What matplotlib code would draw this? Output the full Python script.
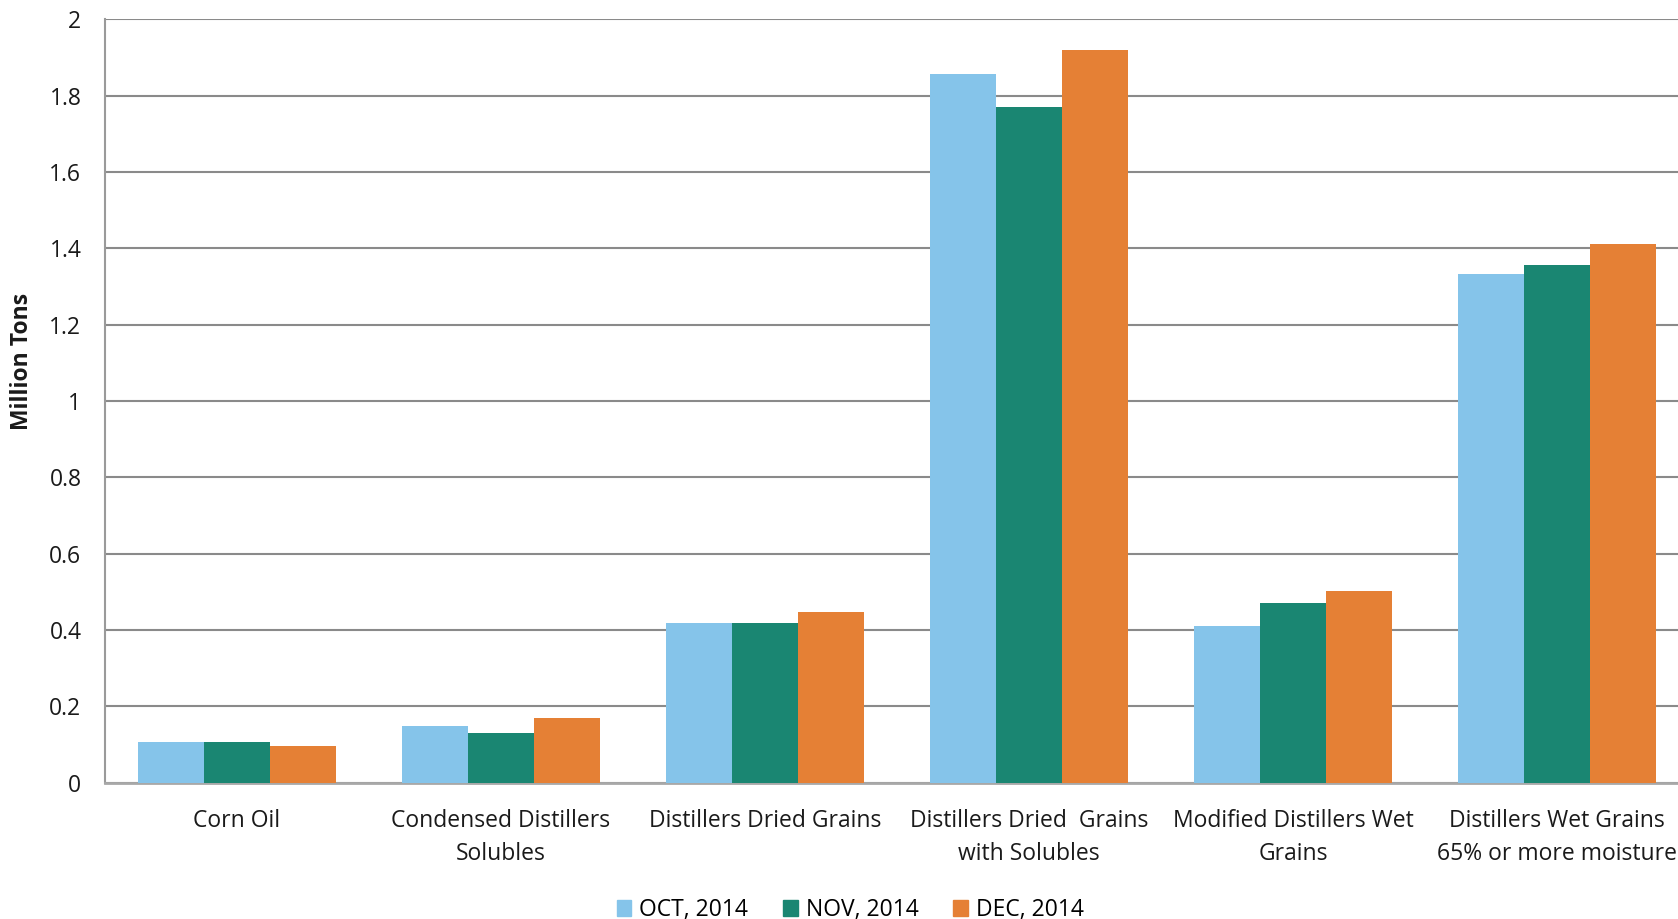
import matplotlib
matplotlib.use("Agg")
import matplotlib.pyplot as plt
import numpy as np

categories = ["Corn Oil", "Condensed Distillers\nSolubles", "Distillers Dried Grains",
              "Distillers Dried  Grains\nwith Solubles", "Modified Distillers Wet\nGrains",
              "Distillers Wet Grains\n65% or more moisture"]
series_names = ["OCT, 2014", "NOV, 2014", "DEC, 2014"]
oct_vals = [0.106, 0.148, 0.418, 1.857, 0.411, 1.333]
nov_vals = [0.105, 0.130, 0.418, 1.771, 0.471, 1.355]
dec_vals = [0.096, 0.170, 0.446, 1.920, 0.502, 1.411]
colors = ["#85C4EA", "#1A8672", "#E58035"]
yticks = [0, 0.2, 0.4, 0.6, 0.8, 1, 1.2, 1.4, 1.6, 1.8, 2]
ytick_labels = ["0", "0.2", "0.4", "0.6", "0.8", "1", "1.2", "1.4", "1.6", "1.8", "2"]

plt.rcParams['font.family'] = ['Open Sans', 'DejaVu Sans']

W, H = 1678, 919
fig = plt.figure(figsize=(W / 100, H / 100), dpi=100)
left, right, bottom, top = 105, 1689, 782.5, 19.3
ax = fig.add_axes([left / W, 1 - bottom / H, (right - left) / W, (bottom - top) / H])

x = np.arange(len(categories))
bw = 0.25
for i, (vals, name) in enumerate(zip([oct_vals, nov_vals, dec_vals], series_names)):
    ax.bar(x + (i - 1) * bw, vals, width=bw, color=colors[i], label=name, zorder=3,
           edgecolor='none')

FS = 16.5
ax.set_xlim(-0.5, len(categories) - 0.5)
ax.set_ylim(0, 2)
ax.set_yticks(yticks)
ax.set_yticklabels(ytick_labels, fontsize=FS)
ax.set_xticks(x)
ax.set_xticklabels(categories, fontsize=FS, linespacing=1.5)
ax.tick_params(axis='both', length=0, colors='#1a1a1a')
ax.tick_params(axis='y', pad=17)
ax.tick_params(axis='x', pad=19)
ax.yaxis.grid(True, color='#8a8a8a', linewidth=1.5, zorder=0)
ax.set_axisbelow(True)
for s in ['top', 'right']:
    ax.spines[s].set_visible(False)
ax.spines['left'].set_color('#9a9a9a')
ax.spines['left'].set_linewidth(1.5)
ax.spines['bottom'].set_color('#a8a8a8')
ax.spines['bottom'].set_linewidth(2)

fig.text(22 / W, 1 - 361 / H, "Million Tons", rotation=90, fontsize=FS, fontweight='bold',
         ha='center', va='center', color='#1a1a1a')

handles = [plt.Rectangle((0, 0), 1, 1, color=c) for c in colors]
fig.legend(handles, series_names, loc='center', bbox_to_anchor=(850 / W, 1 - 910 / H),
           ncol=3, frameon=False, fontsize=FS, handlelength=0.65, handleheight=0.65,
           handletextpad=0.35, columnspacing=1.5)

fig.savefig("out.png", dpi=100)
